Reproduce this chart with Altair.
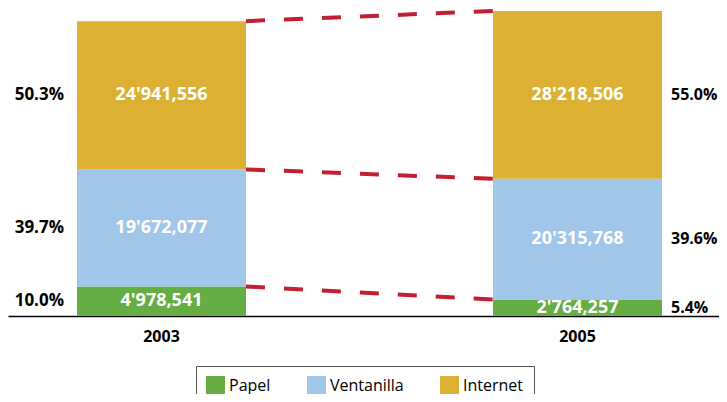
import altair as alt
import pandas as pd

years = ["2003", "2005"]
categories = ["Papel", "Ventanilla", "Internet"]
values_2003 = [4978541, 19672077, 24941556]
values_2005 = [2764257, 20315768, 28218506]
labels_2003 = ["4'978,541", "19'672,077", "24'941,556"]
labels_2005 = ["2'764,257", "20'315,768", "28'218,506"]
colors = ["#66ad44", "#a0c6ea", "#dcb033"]

rows = []
tops = {}
for yr, vals, labs in [("2003", values_2003, labels_2003), ("2005", values_2005, labels_2005)]:
    total = sum(vals)
    cum = 0
    for i, (c, v, lab) in enumerate(zip(categories, vals, labs)):
        y0 = cum
        cum += v
        rows.append(dict(year=yr, cat=c, order=i, value=v, y0=y0, y1=cum,
                         mid=(y0 + cum) / 2, label=lab,
                         pct=f"{100 * v / total:.1f}%"))
        tops[(yr, c)] = cum
df = pd.DataFrame(rows)

lines = pd.DataFrame([
    dict(cat=c, start="2003", end="2005", ya=tops[("2003", c)], yb=tops[("2005", c)])
    for c in categories
])

FONT = "Open Sans"
xscale = alt.Scale(domain=years, paddingInner=0.59375, paddingOuter=0.15144, align=0.5476)
yscale = alt.Scale(domain=[0, 51800000], nice=False, zero=True)

base = alt.Chart(df)

bars = base.mark_bar(strokeWidth=0).encode(
    x=alt.X("year:N", scale=xscale,
            axis=alt.Axis(title=None, labelAngle=0, ticks=False, labelFontSize=16,
                          labelFontWeight="bold", labelColor="black", labelFont=FONT,
                          domainColor="black", domainWidth=1.5, labelPadding=12)),
    y=alt.Y("y0:Q", scale=yscale, axis=None),
    y2="y1:Q",
    color=alt.Color("cat:N", scale=alt.Scale(domain=categories, range=colors),
                    legend=alt.Legend(title=None, orient="none", legendX=188, legendY=358,
                                      direction="horizontal", symbolType="square",
                                      symbolSize=361, symbolStrokeWidth=0,
                                      labelFontSize=16, labelFont=FONT, labelColor="black",
                                      strokeColor="#555", fillColor="white", padding=10,
                                      columnPadding=36, labelOffset=4)),
    order=alt.Order("order:Q"),
)

vals = base.mark_text(color="white", fontWeight="bold", fontSize=18, font=FONT,
                      baseline="middle").encode(
    x=alt.X("year:N", scale=xscale),
    y=alt.Y("mid:Q", scale=yscale),
    text="label:N",
)

pct_left = base.transform_filter(alt.datum.year == "2003").mark_text(
    color="black", fontWeight="bold", fontSize=17, font=FONT, align="right",
    baseline="middle", dx=-13).encode(
    x=alt.X("year:N", scale=xscale, bandPosition=0),
    y=alt.Y("mid:Q", scale=yscale),
    text="pct:N",
)

pct_right = base.transform_filter(alt.datum.year == "2005").mark_text(
    color="black", fontWeight="bold", fontSize=16, font=FONT, align="left",
    baseline="middle", dx=9).encode(
    x=alt.X("year:N", scale=xscale, bandPosition=1),
    y=alt.Y("mid:Q", scale=yscale),
    text="pct:N",
)

connectors = alt.Chart(lines).mark_rule(color="#c41f30", strokeWidth=4,
                                        strokeDash=[19, 19], strokeCap="butt").encode(
    x=alt.X("start:N", scale=xscale, bandPosition=1),
    x2=alt.X2("end:N", bandPosition=0),
    y=alt.Y("ya:Q", scale=yscale),
    y2="yb:Q",
)

chart = alt.layer(bars, connectors, vals, pct_left, pct_right).properties(
    width=711, height=308,
    autosize=alt.AutoSizeParams(type="none"),
    padding={"left": 0, "top": 0, "right": 0, "bottom": 78},
).configure_view(stroke=None)

chart.save("out.html", embed_options={"renderer": "svg", "actions": False})
